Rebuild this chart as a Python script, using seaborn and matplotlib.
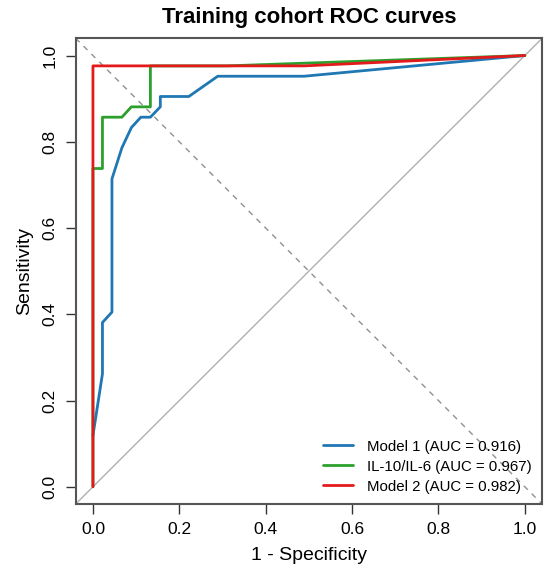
import pandas as pd
import matplotlib.pyplot as plt
import seaborn as sns

# ROC points (1 - specificity, sensitivity)
model1_fpr = [0.0, 0.022, 0.022, 0.044, 0.044, 0.067, 0.089, 0.111, 0.133, 0.156, 0.156, 0.222, 0.289, 0.489, 1.0]
model1_tpr = [0.119, 0.262, 0.381, 0.405, 0.714, 0.786, 0.833, 0.857, 0.857, 0.881, 0.905, 0.905, 0.952, 0.952, 1.0]

ratio_fpr = [0.0, 0.0, 0.022, 0.022, 0.067, 0.089, 0.133, 0.133, 0.31, 1.0]
ratio_tpr = [0.0, 0.738, 0.738, 0.857, 0.857, 0.881, 0.881, 0.976, 0.976, 1.0]

model2_fpr = [0.0, 0.0, 0.489, 1.0]
model2_tpr = [0.0, 0.976, 0.976, 1.0]

labels = ['Model 1 (AUC = 0.916)', 'IL-10/IL-6 (AUC = 0.967)', 'Model 2 (AUC = 0.982)']
colors = ['#1f77b4', '#2ca02c', '#e31a1c']

frames = []
for lab, fpr, tpr in zip(labels, [model1_fpr, ratio_fpr, model2_fpr], [model1_tpr, ratio_tpr, model2_tpr]):
    frames.append(pd.DataFrame({'fpr': fpr, 'tpr': tpr, 'model': lab}))
roc = pd.concat(frames, ignore_index=True)

sns.set_style('ticks')
plt.rcParams['font.family'] = ['Liberation Sans', 'DejaVu Sans']
plt.rcParams['text.color'] = 'black'
plt.rcParams['axes.labelcolor'] = 'black'
plt.rcParams['xtick.color'] = 'black'
plt.rcParams['ytick.color'] = 'black'

fig = plt.figure(figsize=(5.5, 5.8), dpi=100)
ax = fig.add_axes([0.1376, 0.131, 0.848, 0.803])

# reference lines
ax.axline((0, 0), (1, 1), color='#b0b0b0', lw=1.0, zorder=1)
ax.axline((0, 1), (1, 0), color='#909090', lw=1.0, ls=(0, (4, 4)), zorder=1)

sns.lineplot(data=roc, x='fpr', y='tpr', hue='model', palette=colors, sort=False,
             estimator=None, lw=2.0, ax=ax, zorder=3)

ax.set_xlim(-0.04, 1.04)
ax.set_ylim(-0.04, 1.04)
ax.set_xticks([0, 0.2, 0.4, 0.6, 0.8, 1.0])
ax.set_yticks([0, 0.2, 0.4, 0.6, 0.8, 1.0])
ax.set_xticklabels(['0.0', '0.2', '0.4', '0.6', '0.8', '1.0'])
ax.set_yticklabels(['0.0', '0.2', '0.4', '0.6', '0.8', '1.0'], rotation=90, va='center')
ax.tick_params(length=7, width=1.0, color='#333333', labelsize=12.5, pad=6)
for sp in ax.spines.values():
    sp.set_visible(True)
    sp.set_color('#555555')
    sp.set_linewidth(1.5)

ax.set_xlabel('1 - Specificity', fontsize=14, labelpad=7)
ax.set_ylabel('Sensitivity', fontsize=14, labelpad=7)
ax.set_title('Training cohort ROC curves', fontsize=16, fontweight='bold', pad=11)

leg = ax.legend(loc='lower right', frameon=False, fontsize=10.8, handlelength=2.0,
                handletextpad=0.9, labelspacing=0.4, borderaxespad=0.3)
for line in leg.get_lines():
    line.set_linewidth(2.0)

fig.savefig('out.png', dpi=100)
